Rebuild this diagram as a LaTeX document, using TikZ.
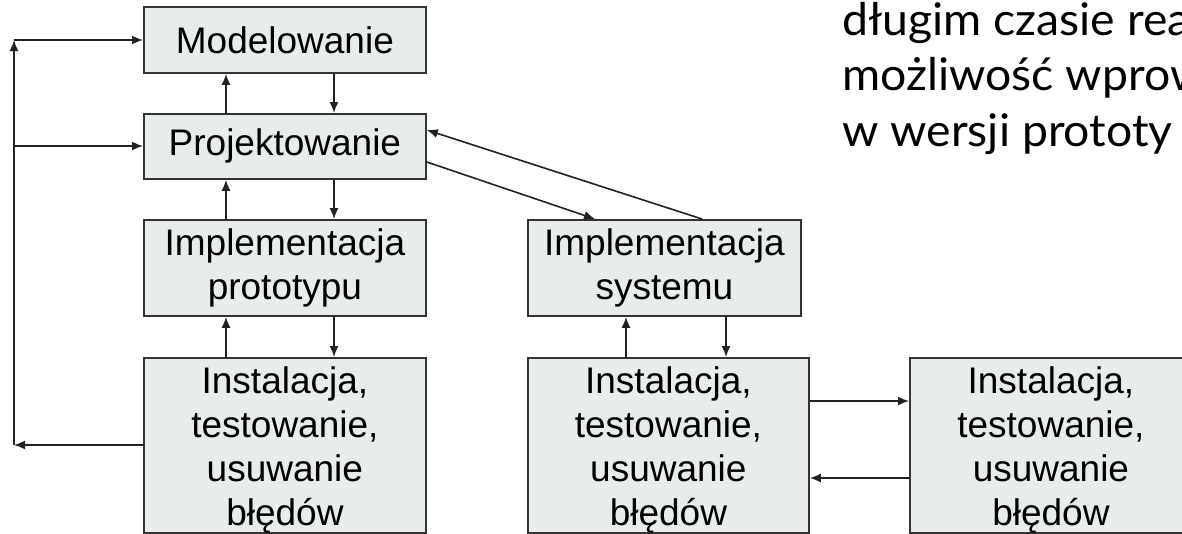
\documentclass[tikz,border=0pt]{standalone}
\usepackage{fontspec}
\setmainfont{Liberation Sans}
\newfontfamily\latofont{Lato}
\usetikzlibrary{arrows.meta,calc}
\definecolor{boxfill}{HTML}{E9ECEC}
\definecolor{boxline}{HTML}{333333}
\definecolor{arrline}{HTML}{222222}
\newcommand{\topstrut}{\rule{0pt}{35pt}}
\newcommand{\sidetext}[1]{\scalebox{1.03}[1]{#1}}
\begin{document}
\begin{tikzpicture}[x=1pt,y=-1pt,
  box/.style={draw=boxline,fill=boxfill,line width=1.8pt,anchor=north west,
    align=center,inner sep=0pt,font=\fontsize{37}{44}\selectfont},
  arr/.style={draw=arrline,line width=1.6pt,-{Latex[length=11pt,width=9pt]}},
  side/.style={anchor=base west,inner sep=0pt,font=\latofont\fontsize{45}{56}\selectfont}]
\clip (0,0) rectangle (1182,533);
\fill[white] (0,0) rectangle (1182,533);

% process boxes
\node[box,minimum width=282pt,minimum height=66pt] (model) at (143,6) {Modelowanie};
\node[box,minimum width=282pt,minimum height=65pt] (proj) at (143,113) {Projektowanie};
\node[box,minimum width=282pt,minimum height=96pt] (proto) at (143,219) {Implementacja\\prototypu};
\node[box,minimum width=273pt,minimum height=96pt] (sys) at (527,219) {Implementacja\\systemu};
\node[box,minimum width=282pt,minimum height=175pt] (inst1) at (143,357) {\topstrut Instalacja,\\testowanie,\\usuwanie\\błędów};
\node[box,minimum width=281pt,minimum height=175pt] (inst2) at (527,357) {\topstrut Instalacja,\\testowanie,\\usuwanie\\błędów};
\node[box,minimum width=282pt,minimum height=175pt] (inst3) at (909,357) {\topstrut Instalacja,\\testowanie,\\usuwanie\\błędów};

% vertical links in the prototype column
\draw[arr] ($(proj.north west)+(83,0)$) -- ($(model.south west)+(83,0)$);
\draw[arr] ($(model.south west)+(191,0)$) -- ($(proj.north west)+(191,0)$);
\draw[arr] ($(proto.north west)+(83,0)$) -- ($(proj.south west)+(83,0)$);
\draw[arr] ($(proj.south west)+(191,0)$) -- ($(proto.north west)+(191,0)$);
\draw[arr] ($(inst1.north west)+(83,0)$) -- ($(proto.south west)+(83,0)$);
\draw[arr] ($(proto.south west)+(191,0)$) -- ($(inst1.north west)+(191,0)$);

% system column
\draw[arr] ($(inst2.north west)+(99,0)$) -- ($(sys.south west)+(99,0)$);
\draw[arr] ($(sys.south west)+(199,0)$) -- ($(inst2.north west)+(199,0)$);

% diagonal links between design and system implementation
\draw[arr] ($(proj.north east)+(0,49)$) -- ($(sys.north west)+(68,0)$);
\draw[arr] ($(sys.north west)+(175,0)$) -- ($(proj.north east)+(0,17)$);

% links between the installation boxes
\draw[arr] ($(inst2.north east)+(0,44)$) -- ($(inst3.north west)+(0,44)$);
\draw[arr] ($(inst3.north west)+(0,121)$) -- ($(inst2.north east)+(0,121)$);

% feedback loop on the left
\coordinate (lb) at (14,445);
\coordinate (lt) at (14,40);
\coordinate (lm) at (14,146);
\draw[arr] ($(inst1.north west)+(0,88)$) -- (lb);
\draw[arr] (lb) -- (lt);
\draw[arr] (lt) -- (lt -| model.west);
\draw[arr] (lm) -- (lm -| proj.west);

% side text
\node[side] (t1) at (842,35) {\sidetext{długim czasie rea}};
\node[side] (t2) at (842,90) {\sidetext{możliwość wprow}};
\node[side] (t3) at (842,146) {\sidetext{w wersji prototy}};
\end{tikzpicture}
\end{document}
